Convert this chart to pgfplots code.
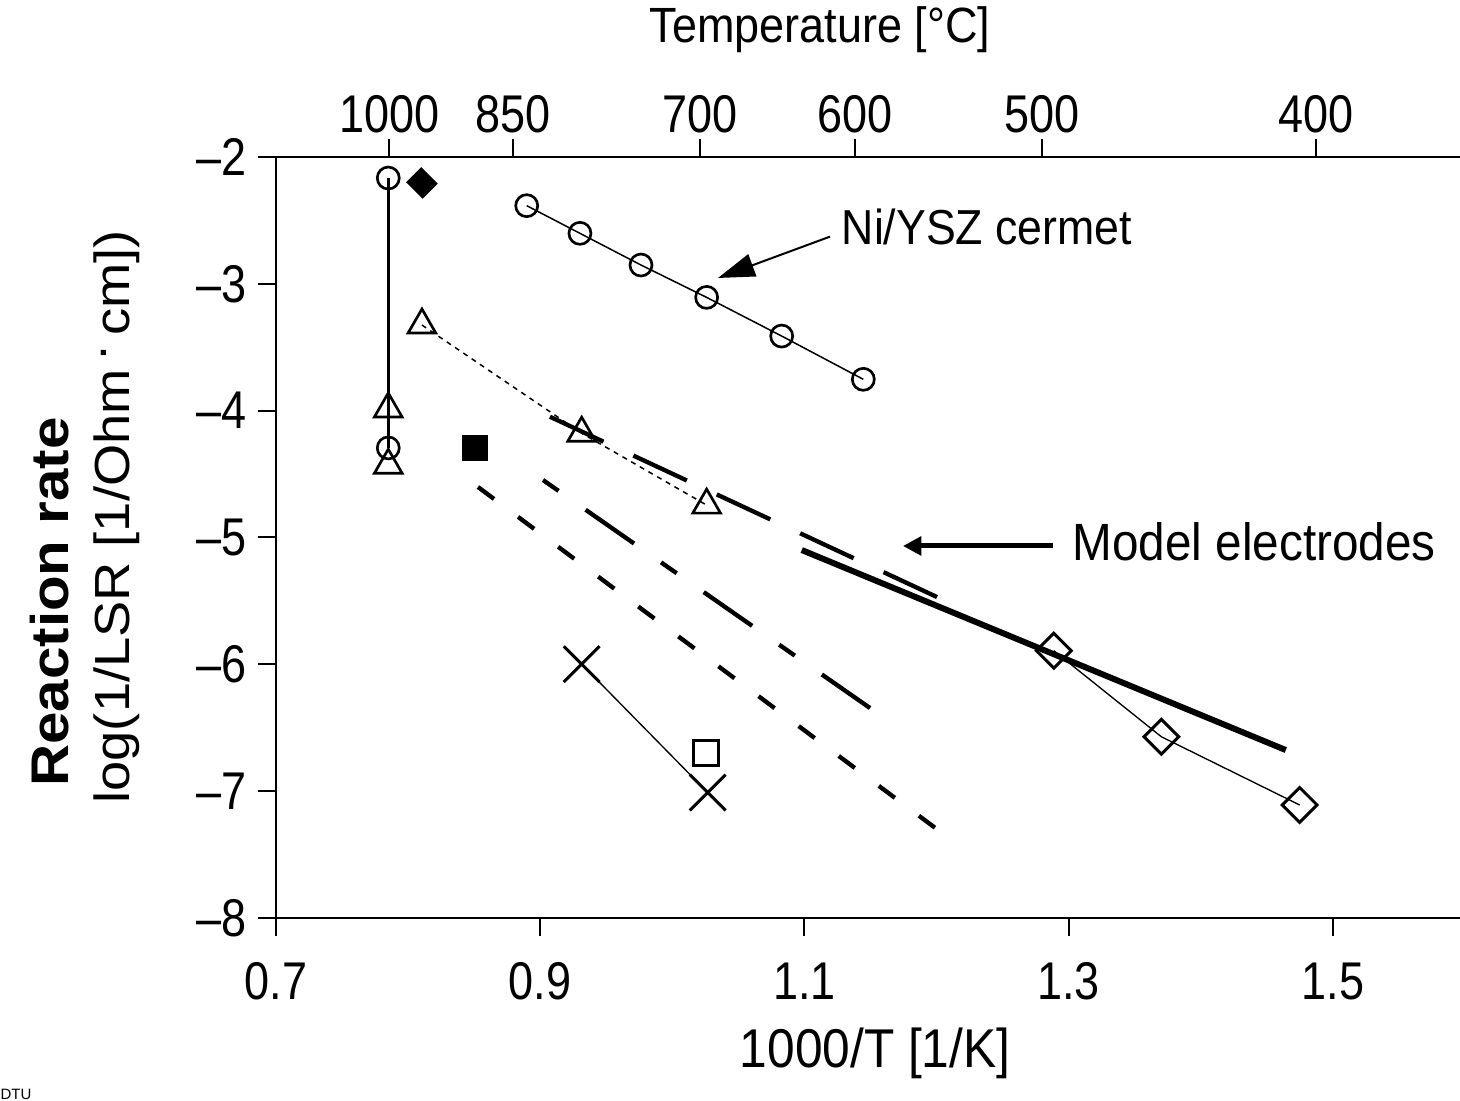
\documentclass[border=0pt]{standalone}
\usepackage{pgfplots}
\pgfplotsset{compat=1.18}
\usepackage{fontspec}
\setmainfont{Liberation Sans}
\usetikzlibrary{arrows.meta}

\begin{document}
\begin{tikzpicture}
\begin{axis}[
  scale only axis, width=355.2pt, height=228.3pt,
  xmin=0.7, xmax=1.5963, ymin=-8, ymax=-2,
  axis x line*=bottom, axis y line*=left,
  axis line style={-, line width=0.6pt},
  every tick/.style={black, line width=0.6pt},
  tick align=outside, major tick length=5.4pt,
  xtick={0.7,0.9,1.1,1.3,1.5}, xticklabels={0.7,0.9,1.1,1.3,1.5},
  ytick={-8,-7,-6,-5,-4,-3,-2}, yticklabels={–8,–7,–6,–5,–4,–3,–2},
  tick label style={font=\fontsize{13.5}{15}\selectfont, yscale=1.18},
  xticklabel style={yshift=-3.3pt},
  /pgf/number format/assume math mode=true,
  clip=false,
]
% model electrode lines
\addplot[black, line width=1.8pt, no marks] coordinates {(1.098,-5.099) (1.4644,-6.676)};
\addplot[black, line width=1.3pt, dash pattern=on 17.7pt off 9.9pt, no marks] coordinates {(0.9074,-4.048) (1.2019,-5.477)};
\addplot[black, line width=1.3pt, dash pattern=on 5.7pt off 9.9pt on 17.7pt off 9.9pt, no marks] coordinates {(0.9021,-4.547) (1.1497,-6.345)};
\addplot[black, line width=1.3pt, dash pattern=on 6pt off 9pt, no marks] coordinates {(0.8529,-4.602) (1.2011,-7.306)};
% vertical line at 1000 C
\addplot[black, line width=0.9pt, no marks] coordinates {(0.785,-2.166) (0.785,-4.294)};
\addplot[black, only marks, mark=o, mark size=3.3pt, mark options={line width=0.8pt}] coordinates {(0.785,-2.166) (0.785,-4.294)};
\addplot[black, only marks, mark=triangle, mark size=4.8pt, mark options={line width=0.8pt}] coordinates {(0.785,-3.987) (0.785,-4.43)};
% filled diamond
\addplot[black, only marks, mark=square*, mark size=3pt, mark options={rotate=45, yscale=1.1}] coordinates {(0.8105,-2.205)};
% triangles with thin dashed line
\addplot[black, line width=0.45pt, dash pattern=on 1.5pt off 1.5pt, mark=triangle, mark size=4.8pt, mark options={solid, line width=0.8pt}] coordinates {(0.8105,-3.325) (0.9314,-4.178) (1.026,-4.745)};
% filled square
\addplot[black, only marks, mark=square*, mark size=3.8pt] coordinates {(0.8506,-4.294)};
% Ni/YSZ cermet
\addplot[black, line width=0.45pt, mark=o, mark size=3.3pt, mark options={line width=0.8pt}] coordinates {(0.8898,-2.384) (0.9301,-2.602) (0.9763,-2.852) (1.026,-3.107) (1.0828,-3.412) (1.1446,-3.753)};
% crosses
\addplot[black, line width=0.4pt, mark=x, mark size=7.6pt, mark options={line width=0.9pt}] coordinates {(0.9314,-5.999) (1.0268,-7.011)};
% open square
\addplot[black, only marks, mark=square, mark size=3.8pt, mark options={line width=0.9pt}] coordinates {(1.0253,-6.697)};
% open diamonds
\addplot[black, line width=0.4pt, mark=square, mark size=3.7pt, mark options={rotate=45, line width=0.9pt}] coordinates {(1.2888,-5.893) (1.3702,-6.571) (1.4749,-7.109)};

% annotations
\node[font=\fontsize{13.4}{16}\selectfont, yscale=1.1] at (axis cs:1.2382,-2.552) {Ni/YSZ cermet};
\draw[line width=0.6pt, -{Triangle[length=11pt,width=7pt]}] (axis cs:1.1194,-2.628) -- (axis cs:1.0346,-2.954);
\node[font=\fontsize{14.3}{17}\selectfont, yscale=1.1] at (axis cs:1.4404,-5.036) {Model electrodes};
\draw[line width=1.5pt, -{Triangle[length=5.5pt,width=5.5pt]}] (axis cs:1.2882,-5.067) -- (axis cs:1.1746,-5.067);

% axis labels
\node[font=\fontsize{14.9}{18}\selectfont, yscale=1.1] at (axis description cs:0.506,-0.1775) {1000/T [1/K]};
\node[font=\fontsize{13.5}{16}\selectfont, yscale=1.1] at (axis description cs:0.4595,1.1669) {Temperature [°C]};
\node[rotate=90, font=\fontsize{14.8}{18}\selectfont, xscale=1.1] at (axis description cs:-0.1343,0.527) {log(1/LSR [1/Ohm\,\raisebox{0.9ex}{.}\,cm])};
\node[rotate=90, font=\bfseries\fontsize{15.9}{19}\selectfont, xscale=1.1] at (axis description cs:-0.1909,0.4152) {Reaction rate};
\node[anchor=south west, inner sep=0pt, font=\fontsize{4.5}{5}\selectfont] at (axis description cs:-0.2331,-0.2392) {DTU};

\coordinate (bbTL) at (axis description cs:-0.2331,1.2063);
\coordinate (bbBR) at (axis description cs:1,-0.2405);
\end{axis}
\begin{axis}[
  scale only axis, width=355.2pt, height=228.3pt,
  xmin=0.7, xmax=1.5963, ymin=-8, ymax=-2,
  axis x line*=top, axis y line=none,
  axis line style={-, line width=0.6pt},
  every tick/.style={black, line width=0.6pt},
  tick align=outside, major tick length=5.4pt,
  xtick={0.7859,0.8794,1.021,1.138,1.2797,1.4873},
  xticklabels={1000,850,700,600,500,400},
  tick label style={font=\fontsize{13.5}{15}\selectfont, yscale=1.18},
  xticklabel style={yshift=-2pt},
  /pgf/number format/assume math mode=true,
]
\addplot[draw=none] coordinates {(1,-5)};
\end{axis}
\pgfresetboundingbox
\useasboundingbox (bbTL) rectangle (bbBR);
\end{tikzpicture}
\end{document}
